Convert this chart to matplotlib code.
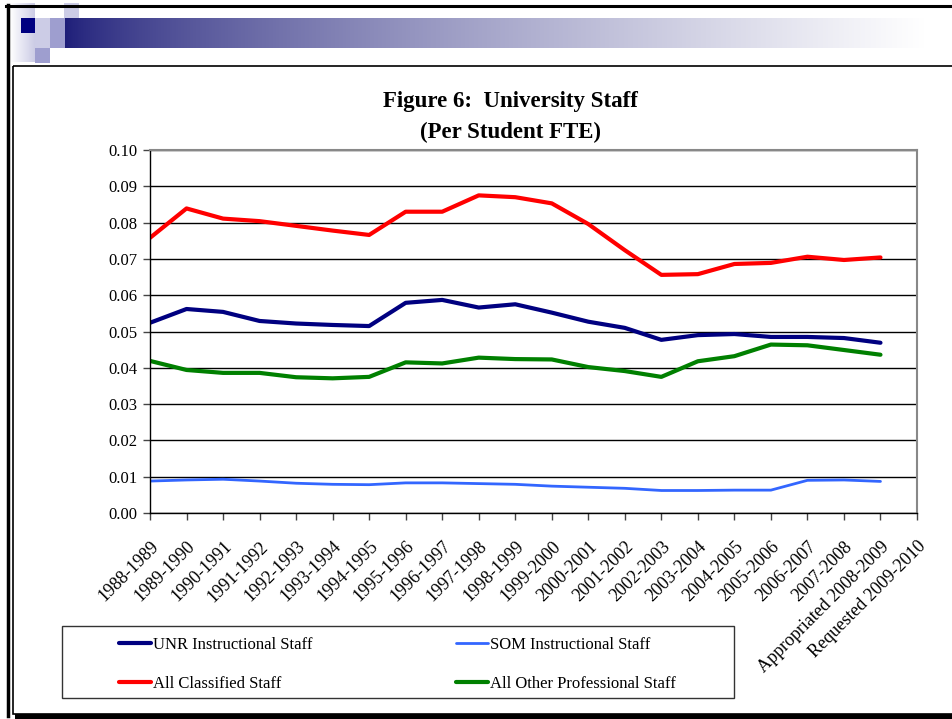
import numpy as np
import matplotlib
matplotlib.use('Agg')
import matplotlib.pyplot as plt
from matplotlib.patches import Rectangle

plt.rcParams['font.family'] = 'Liberation Serif'

# Data
YEARS = ['1988-1989', '1989-1990', '1990-1991', '1991-1992', '1992-1993', '1993-1994',
         '1994-1995', '1995-1996', '1996-1997', '1997-1998', '1998-1999', '1999-2000',
         '2000-2001', '2001-2002', '2002-2003', '2003-2004', '2004-2005', '2005-2006',
         '2006-2007', '2007-2008', 'Appropriated 2008-2009', 'Requested 2009-2010']
unr_instr = [0.0524, 0.0562, 0.0554, 0.0529, 0.0522, 0.0518, 0.0515, 0.0579, 0.0587, 0.0566,
             0.0575, 0.0552, 0.0527, 0.0510, 0.0477, 0.0490, 0.0493, 0.0485, 0.0485, 0.0482,
             0.0469]
som_instr = [0.0088, 0.0091, 0.0093, 0.0088, 0.0082, 0.0079, 0.0078, 0.0083, 0.0083, 0.0081,
             0.0079, 0.0074, 0.0071, 0.0068, 0.0062, 0.0062, 0.0063, 0.0063, 0.0090, 0.0091,
             0.0087]
classified = [0.0758, 0.0839, 0.0811, 0.0804, 0.0791, 0.0778, 0.0766, 0.0830, 0.0830, 0.0875,
              0.0870, 0.0853, 0.0796, 0.0724, 0.0656, 0.0658, 0.0686, 0.0689, 0.0706, 0.0697,
              0.0704]
other_prof = [0.0419, 0.0394, 0.0386, 0.0386, 0.0374, 0.0371, 0.0375, 0.0415, 0.0412, 0.0428,
              0.0424, 0.0423, 0.0402, 0.0391, 0.0375, 0.0418, 0.0432, 0.0464, 0.0462, 0.0449,
              0.0436]

W, H = 952, 719
fig = plt.figure(figsize=(W / 100, H / 100), dpi=100)

# slide decoration drawn in pixel coordinates
bg = fig.add_axes([0, 0, 1, 1], zorder=0)
bg.set_xlim(0, W)
bg.set_ylim(H, 0)
bg.axis('off')

grad = np.linspace(0, 1, 400)
c0 = np.array([0.11, 0.11, 0.47])
c1 = np.array([1.0, 1.0, 1.0])
img = c0[None, :] * (1 - grad[:, None] ** 0.7) + c1[None, :] * grad[:, None] ** 0.7
bg.imshow(img[None, :, :], extent=(64, 925, 48, 18), aspect='auto', zorder=1)
fade = np.linspace(1, 0, 50)
side = c1[None, :] * fade[:, None] + np.array([0.8, 0.8, 0.9])[None, :] * (1 - fade[:, None])
bg.imshow(side[None, :, :], extent=(10, 35, 62, 3), aspect='auto', zorder=1)

light = '#CCCCE6'
mid = '#9E9ECF'
for (x, y, c) in [(21, 18, '#000080'), (35, 18, light), (50, 18, mid), (64, 3, light),
                  (35, 33, light), (50, 33, mid), (35, 48, mid)]:
    bg.add_patch(Rectangle((x, y), 14.5, 15, color=c, zorder=2, lw=0))

bg.plot([6, W], [5.5, 5.5], color='black', lw=2.2, zorder=3)
bg.plot([7.5, 7.5], [5, 716], color='black', lw=2.5, zorder=3)
bg.add_patch(Rectangle((12.5, 65.5), W, 648, fill=False, edgecolor='black', lw=1.2, zorder=3))
bg.add_patch(Rectangle((15, 714), W, 6, color='black', lw=0, zorder=3))
bg.add_patch(Rectangle((62, 626), 672, 72, fill=False, edgecolor='#333333', lw=1.0, zorder=3))

fig.text(510 / W, 1 - 101 / H, 'Figure 6:  University Staff', ha='center', va='center',
         fontsize=16.5, fontweight='bold')
fig.text(510 / W, 1 - 132 / H, '(Per Student FTE)', ha='center', va='center',
         fontsize=16.5, fontweight='bold')

ax = fig.add_axes([150 / W, 1 - 513 / H, (917 - 150) / W, (513 - 150) / H], zorder=2)
ax.patch.set_alpha(0)
x = np.arange(len(unr_instr))
ax.plot(x, unr_instr, color='#000080', lw=3.0, label='UNR Instructional Staff', solid_capstyle='round')
ax.plot(x, som_instr, color='#3366FF', lw=2.0, label='SOM Instructional Staff', solid_capstyle='round')
ax.plot(x, classified, color='#FF0000', lw=3.0, label='All Classified Staff', solid_capstyle='round')
ax.plot(x, other_prof, color='#008000', lw=3.0, label='All Other Professional Staff', solid_capstyle='round')

ax.set_xlim(0, len(YEARS) - 1)
ax.set_ylim(0, 0.10)
ax.set_yticks(np.arange(0, 0.1001, 0.01))
ax.set_yticklabels([f'{v:.2f}' for v in np.arange(0, 0.1001, 0.01)], fontsize=12)
ax.set_xticks(np.arange(len(YEARS)))
ax.set_xticklabels(YEARS, rotation=45, ha='right', va='top', rotation_mode='anchor', fontsize=13)
ax.tick_params(axis='both', direction='out', length=5, width=1, color='#444444', pad=4)
ax.tick_params(axis='x', pad=13)
ax.grid(axis='y', color='black', lw=1.0)
ax.set_axisbelow(True)
for s in ['top', 'right']:
    ax.spines[s].set_color('#888888')
    ax.spines[s].set_linewidth(1.5)
for s in ['left', 'bottom']:
    ax.spines[s].set_color('black')
    ax.spines[s].set_linewidth(1.0)

h, l = ax.get_legend_handles_labels()
order = [0, 2, 1, 3]
leg = fig.legend([h[i] for i in order], [l[i] for i in order], ncol=2, frameon=False,
                 loc='upper left', bbox_to_anchor=(119 / W, 1 - 637 / H),
                 borderpad=0, borderaxespad=0, fontsize=12, handlelength=1.9,
                 handletextpad=0.15, labelspacing=1.35, columnspacing=8.6)

fig.savefig('out.png', dpi=100)
